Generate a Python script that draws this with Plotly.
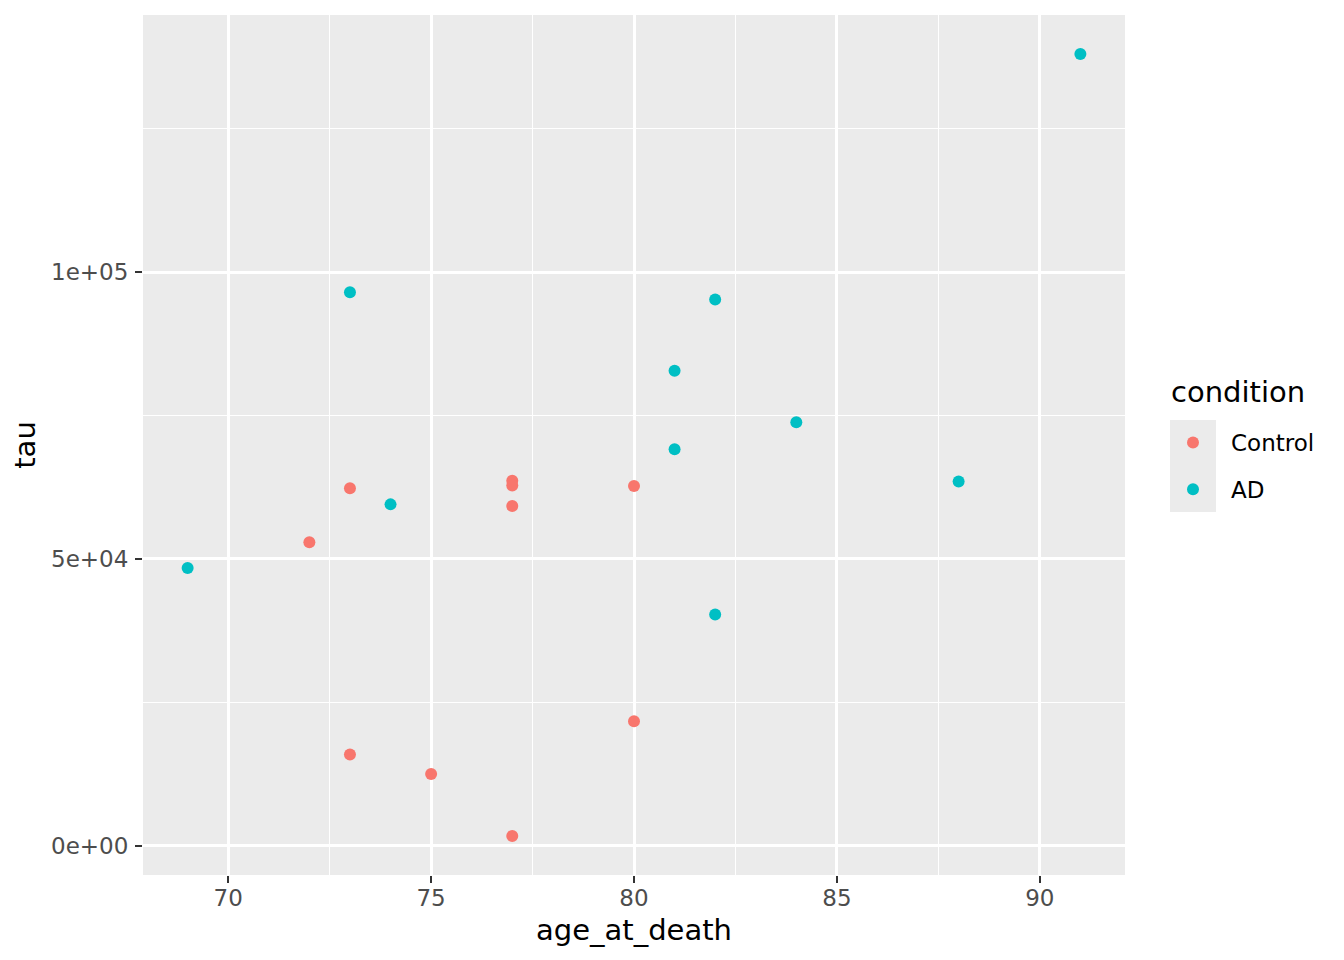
import plotly.graph_objects as go

# ---- data ----
control_age = [72, 73, 73, 75, 77, 77, 77, 77, 80, 80]
control_tau = [52900, 62300, 15900, 12500, 63600, 62800, 59200, 1700, 62700, 21700]

ad_age = [69, 73, 74, 81, 81, 82, 82, 84, 88, 91]
ad_tau = [48400, 96500, 59500, 82800, 69100, 95200, 40300, 73800, 63500, 138000]

x_ticks = [70, 75, 80, 85, 90]
y_ticks = [0, 50000, 100000]
y_tick_labels = ["0e+00", "5e+04", "1e+05"]

series_names = ["Control", "AD"]
series_colors = ["#F8766D", "#00BFC4"]

# ---- ggplot-like expansion of ranges (5%) ----
all_x = control_age + ad_age
all_y = control_tau + ad_tau
xpad = (max(all_x) - min(all_x)) * 0.05
ypad = (max(all_y) - min(all_y)) * 0.05
xrange = [min(all_x) - xpad, max(all_x) + xpad]
yrange = [min(all_y) - ypad, max(all_y) + ypad]

FONT = "DejaVu Sans"

fig = go.Figure()
for name, xs, ys, col in [
    (series_names[0], control_age, control_tau, series_colors[0]),
    (series_names[1], ad_age, ad_tau, series_colors[1]),
]:
    fig.add_trace(go.Scatter(
        x=xs, y=ys, mode="markers", name=name, legendgroup=name,
        marker=dict(color=col, size=12, line=dict(width=0)),
    ))

W, H = 1344, 960
L, R, T, B = 143, 1344 - 1125, 15, 960 - 875
pw, ph = W - L - R, H - T - B

def px2paper_x(px):
    return (px - L) / pw

def px2paper_y(py):
    return (H - B - py) / ph

axis_common = dict(
    showgrid=True, gridcolor="white", gridwidth=2.6,
    ticks="outside", ticklen=7, tickwidth=2.2, tickcolor="#333333",
    tickfont=dict(family=FONT, size=23, color="#4D4D4D"),
    zeroline=False, showline=False,
)

fig.update_layout(
    width=W, height=H, autosize=False,
    margin=dict(l=L, r=R, t=T, b=B, pad=0),
    paper_bgcolor="white", plot_bgcolor="#EBEBEB",
    font=dict(family=FONT, color="black"),
    xaxis=dict(
        range=xrange, tickvals=x_ticks, automargin=False,
        minor=dict(dtick=2.5, tick0=0, showgrid=True, gridcolor="white", gridwidth=1.3, ticks=""),
        title=dict(text="age_at_death", font=dict(family=FONT, size=29, color="black"), standoff=10),
        ticklabelstandoff=-5,
        **axis_common,
    ),
    yaxis=dict(
        range=yrange, tickvals=y_ticks, ticktext=y_tick_labels, automargin=False,
        minor=dict(dtick=25000, tick0=0, showgrid=True, gridcolor="white", gridwidth=1.3, ticks=""),
        title=dict(text="tau", font=dict(family=FONT, size=29, color="black"), standoff=6),
        ticklabelstandoff=2,
        **axis_common,
    ),
    legend=dict(
        font=dict(family=FONT, size=23, color="black"),
        bgcolor="rgba(0,0,0,0)",
        xref="container", yref="container",
        x=1155 / W, y=1 - 421 / H, xanchor="left", yanchor="top",
        tracegroupgap=14, traceorder="grouped",
        itemsizing="constant", itemwidth=66,
    ),
    annotations=[dict(
        text="condition", xref="paper", yref="paper",
        x=px2paper_x(1169), y=px2paper_y(392),
        xanchor="left", yanchor="middle", showarrow=False,
        font=dict(family=FONT, size=29, color="black"),
    )],
    shapes=[dict(
        type="rect", xref="paper", yref="paper",
        x0=px2paper_x(1170), x1=px2paper_x(1216),
        y0=px2paper_y(512), y1=px2paper_y(420),
        fillcolor="#EBEBEB", line=dict(width=0), layer="below",
    )],
)

fig.write_html(
    "out.html",
    config={"displayModeBar": False},
    post_script="document.body.style.margin='0';",
)
